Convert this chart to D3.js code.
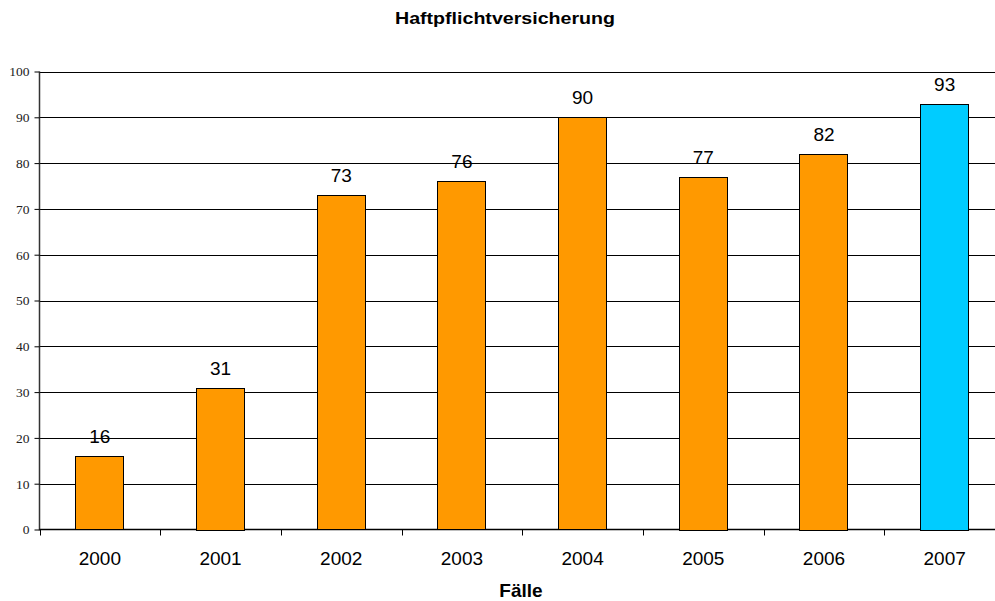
<!DOCTYPE html>
<html lang="en">
<head>
<meta charset="UTF-8">
<script src="https://d3js.org/d3.v7.min.js"></script>
<style>
    body { margin: 0; background: #fff; }
    .grid line { stroke: #000; stroke-width: 1px; shape-rendering: crispEdges; }
    .bar { stroke: #000; stroke-width: 1px; shape-rendering: crispEdges; }
    .sans { font-family: "Liberation Sans", Arial, sans-serif; }
</style>
</head>
<body>
<script>
    const years = ['2000', '2001', '2002', '2003', '2004', '2005', '2006', '2007'];
    const cases = [16, 31, 73, 76, 90, 77, 82, 93];
    const yTicks = [0, 10, 20, 30, 40, 50, 60, 70, 80, 90, 100];

    const width = 995, height = 601;
    const plotLeft = 39.5, plotRight = 1005, plotTop = 71.5, plotBottom = 529.5;

    const svg = d3.select('body').append('svg')
        .attr('width', width)
        .attr('height', height);

    const x = d3.scaleBand().domain(years).range([plotLeft, plotRight]);
    const y = d3.scaleLinear().domain([0, 100]).range([plotBottom, plotTop]);

    // gridlines
    svg.append('g').attr('class', 'grid')
        .selectAll('line').data(yTicks.filter(d => d > 0)).enter()
        .append('line')
        .attr('x1', plotLeft).attr('x2', plotRight)
        .attr('y1', d => Math.round(y(d)) + 0.5).attr('y2', d => Math.round(y(d)) + 0.5);

    // y axis
    const yAxis = svg.append('g')
        .attr('transform', `translate(${plotLeft},0)`)
        .call(d3.axisLeft(y).tickValues(yTicks).tickSize(5).tickPadding(5));
    yAxis.selectAll('text')
        .style('font-family', '"Liberation Serif", "Times New Roman", serif')
        .style('font-size', '13.5px')
        .attr('fill', '#222');
    yAxis.selectAll('.tick line').attr('stroke', '#000');
    yAxis.select('.domain').attr('d', `M0,${plotTop}V${plotBottom + 1}`)
        .attr('stroke', '#333').attr('stroke-width', 1.5);

    // x axis: line and ticks between categories
    svg.append('line')
        .attr('x1', plotLeft).attr('x2', plotRight)
        .attr('y1', plotBottom).attr('y2', plotBottom)
        .attr('stroke', '#000').attr('stroke-width', 1.3);
    svg.append('g').selectAll('line')
        .data(years).enter()
        .append('line')
        .attr('x1', d => Math.round(x(d)) + 0.5).attr('x2', d => Math.round(x(d)) + 0.5)
        .attr('y1', plotBottom).attr('y2', plotBottom + 6)
        .attr('stroke', '#000');

    svg.append('g').selectAll('text')
        .data(years).enter()
        .append('text')
        .attr('class', 'sans')
        .attr('x', d => x(d) + x.bandwidth() / 2)
        .attr('y', 565)
        .attr('text-anchor', 'middle')
        .style('font-size', '19px')
        .text(d => d);

    // bars
    const bw = x.bandwidth() * 0.4;
    svg.append('g').selectAll('rect')
        .data(cases).enter()
        .append('rect')
        .attr('class', 'bar')
        .attr('x', (d, i) => Math.floor(x(years[i]) + x.bandwidth() / 2 - bw / 2) + 0.5)
        .attr('y', d => Math.round(y(d)) + 0.5)
        .attr('width', Math.round(bw))
        .attr('height', d => Math.round(plotBottom - y(d)))
        .attr('fill', (d, i) => i === years.length - 1 ? '#00CCFF' : '#FF9900');

    // value labels
    svg.append('g').selectAll('text')
        .data(cases).enter()
        .append('text')
        .attr('class', 'sans')
        .attr('x', (d, i) => x(years[i]) + x.bandwidth() / 2)
        .attr('y', d => y(d) - 13)
        .attr('text-anchor', 'middle')
        .style('font-size', '19px')
        .text(d => d);

    // title and axis title
    svg.append('text')
        .attr('class', 'sans')
        .attr('x', 505).attr('y', 24)
        .attr('text-anchor', 'middle')
        .attr('textLength', 220).attr('lengthAdjust', 'spacingAndGlyphs')
        .style('font-size', '17px').style('font-weight', 'bold')
        .text('Haftpflichtversicherung');
    svg.append('text')
        .attr('class', 'sans')
        .attr('x', 521).attr('y', 597)
        .attr('text-anchor', 'middle')
        .style('font-size', '19px').style('font-weight', 'bold')
        .text('Fälle');
</script>
</body>
</html>
